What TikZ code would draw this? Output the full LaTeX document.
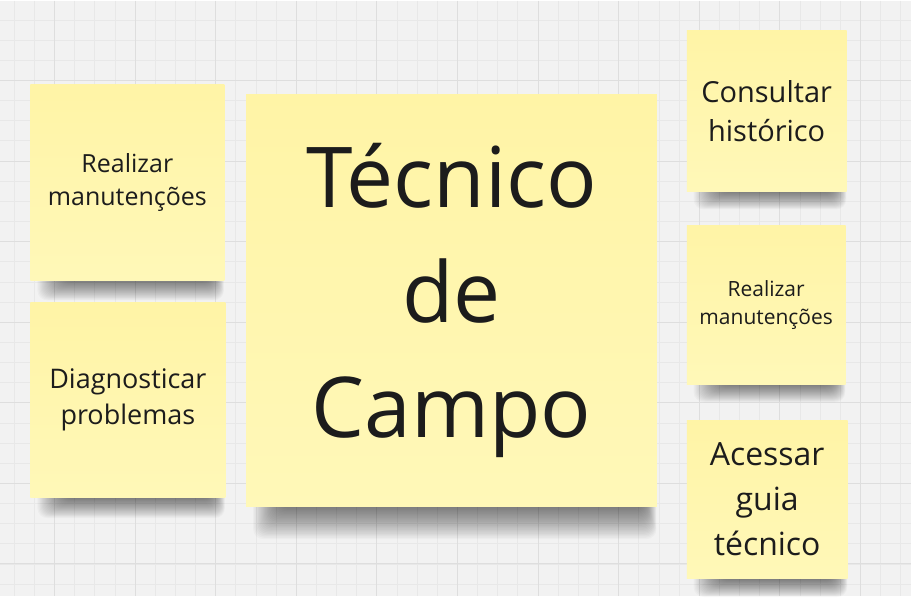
\documentclass[tikz,border=0pt]{standalone}
\usepackage{fontspec}
\setmainfont{Open Sans}
\usetikzlibrary{calc,backgrounds}

\definecolor{canvas}{HTML}{F2F2F2}
\definecolor{gridminor}{HTML}{E8E8E8}
\definecolor{gridmajor}{HTML}{DEDEDE}
\definecolor{noteTop}{HTML}{FFF4A6}
\definecolor{noteBot}{HTML}{FFF8B8}
\definecolor{ink}{HTML}{1C1C1C}

\tikzset{
  postit/.style={top color=noteTop, bottom color=noteBot, draw=none,
    align=center, text=ink, inner sep=0pt},
  shadowpart/.style={fill=black, opacity=0.022, rounded corners=10pt},
}

% soft shadow under a note: #1 = node name, #2 = depth of the shadow
\newcommand\noteshadow[2]{%
  \foreach \k in {1,...,24}
    \fill[shadowpart] ($(#1.south west)+({6+1.1*\k},-40)$) rectangle
                      ($(#1.south east)+({-0.5*\k},{#2*(25-\k)/24})$);
}

\begin{document}
\begin{tikzpicture}[x=1pt,y=-1pt]
            \begin{scope}[on background layer]
            \fill[canvas] (0,0) rectangle (911,596);
            \foreach \i in {0,...,44} \draw[gridminor, line width=0.8pt] ({13.7+20.17*\i},0) -- ({13.7+20.17*\i},596);
            \foreach \j in {1,...,29} \draw[gridminor, line width=0.8pt] (0,{-0.67+20.17*\j}) -- (911,{-0.67+20.17*\j});
            \foreach \i in {0,...,10} \draw[gridmajor, line width=1pt] ({54.04+80.68*\i},0) -- ({54.04+80.68*\i},596);
            \foreach \j in {1,...,7} \draw[gridmajor, line width=1pt] (0,{-0.67+80.68*\j}) -- (911,{-0.67+80.68*\j});
            \end{scope}

            \node[postit, minimum width=194pt, minimum height=196pt, font=\fontsize{25}{33}\selectfont]
                (manutLeft) at (127,182) {Realizar\\manutenções};
            \node[postit, minimum width=195pt, minimum height=196pt, font=\fontsize{27}{36}\selectfont]
                (diagnostico) at (127.5,400) {Diagnosticar\\problemas};
            \node[postit, minimum width=411pt, minimum height=413pt, font=\fontsize{84}{115}\selectfont]
                (tecnico) at (451.5,300.5) {Técnico\\de\\Campo};
            \node[postit, minimum width=160pt, minimum height=161pt, font=\fontsize{29}{39}\selectfont]
                (historico) at (767,110.5) {Consultar\\histórico};
            \node[postit, minimum width=159pt, minimum height=159pt, font=\fontsize{21}{28}\selectfont]
                (manutRight) at (766.5,304.5) {Realizar\\manutenções};
            \node[postit, minimum width=161pt, minimum height=159pt, font=\fontsize{32}{45}\selectfont]
                (guia) at (767.5,499.5) {Acessar\\guia\\técnico};

            \begin{scope}[on background layer]
            \noteshadow{manutLeft}{20}
            \noteshadow{diagnostico}{20}
            \noteshadow{tecnico}{32}
            \noteshadow{historico}{18}
            \noteshadow{manutRight}{18}
            \noteshadow{guia}{18}
            \end{scope}
        \end{tikzpicture}
\end{document}
